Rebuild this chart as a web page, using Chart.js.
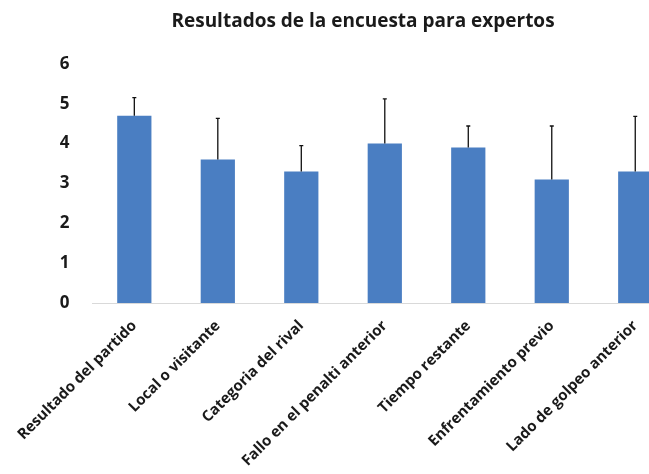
<!DOCTYPE html>
<html>
<head>
<meta charset="utf-8">
<script src="https://cdn.jsdelivr.net/npm/chart.js@4/dist/chart.umd.min.js"></script>
<style>
	html, body { margin: 0; padding: 0; background: #ffffff; overflow: hidden; }
	#wrap { width: 649px; height: 474px; overflow: hidden; }
</style>
</head>
<body>
<div id="wrap"><canvas id="survey" width="726" height="474"></canvas></div>
<script>

	/* Survey data */

	var factors = ['Resultado del partido', 'Local o visitante', 'Categoria del rival', 'Fallo en el penalti anterior', 'Tiempo restante', 'Enfrentamiento previo', 'Lado de golpeo anterior'];
	var means = [4.7, 3.6, 3.3, 4.0, 3.9, 3.1, 3.3];
	var deviations = [0.45, 1.03, 0.65, 1.12, 0.54, 1.34, 1.38];
	var yTicks = [0, 1, 2, 3, 4, 5, 6];


	/* error bars, upper half only */

	var errorBars = {
		id: 'errorBars',
		afterDatasetsDraw: function(chart) {
			var ctx = chart.ctx;
			var yScale = chart.scales.y;
			var meta = chart.getDatasetMeta(0);
			ctx.save();
			ctx.strokeStyle = '#111111';
			ctx.lineWidth = 1.3;
			meta.data.forEach(function(bar, i) {
				var top = yScale.getPixelForValue(means[i] + deviations[i]);
				ctx.beginPath();
				ctx.moveTo(bar.x, bar.y);
				ctx.lineTo(bar.x, top);
				ctx.moveTo(bar.x - 2, top);
				ctx.lineTo(bar.x + 2, top);
				ctx.stroke();
			});
			ctx.restore();
		}
	};

	var surveyChart = new Chart(document.getElementById('survey'), {
		type: 'bar',
		data: {
			labels: factors,
			datasets: [{
				data: means,
				backgroundColor: '#4a7ec2',
				borderWidth: 0,
				categoryPercentage: 1,
				barPercentage: 0.41
			}]
		},
		plugins: [errorBars],
		options: {
			responsive: false,
			animation: false,
			layout: { padding: { left: 49, right: 49, top: 0, bottom: 0 } },
			plugins: {
				legend: { display: false },
				tooltip: { enabled: false },
				title: {
					display: true,
					text: 'Resultados de la encuesta para expertos',
					color: '#1a1a1a',
					font: { family: 'Open Sans', size: 19, weight: 'bold' },
					padding: { top: 10, bottom: 31 }
				}
			},
			scales: {
				x: {
					grid: { display: false, drawTicks: false },
					border: { display: true, color: '#d9d9d9', width: 1 },
					ticks: {
						minRotation: 45,
						maxRotation: 45,
						autoSkip: false,
						padding: 14,
						color: '#1a1a1a',
						font: { family: 'Open Sans', size: 15, weight: 'bold' }
					},
					afterFit: function(scale) { scale.height = 171; }
				},
				y: {
					min: 0,
					max: 6,
					afterBuildTicks: function(scale) {
						scale.ticks = yTicks.map(function(v) { return { value: v }; });
					},
					grid: { display: false, drawTicks: false },
					border: { display: false },
					ticks: {
						padding: 23,
						color: '#1a1a1a',
						font: { family: 'Open Sans', size: 17, weight: 'bold' }
					},
					afterFit: function(scale) { scale.width = 42; }
				}
			}
		}
	});

</script>
</body>
</html>
